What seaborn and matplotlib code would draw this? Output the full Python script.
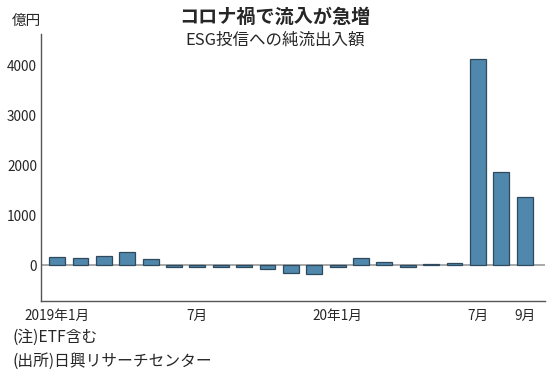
import numpy as np
import pandas as pd
import seaborn as sns
import matplotlib.pyplot as plt

# 月ごとの純流出入額(億円)
months = ['2019-01', '2019-02', '2019-03', '2019-04', '2019-05', '2019-06',
          '2019-07', '2019-08', '2019-09', '2019-10', '2019-11', '2019-12',
          '2020-01', '2020-02', '2020-03', '2020-04', '2020-05', '2020-06',
          '2020-07', '2020-08', '2020-09']
flows = [160, 140, 180, 260, 120, -40, -40, -40, -40, -70, -150, -170,
         -40, 150, 60, -40, 30, 50, 4130, 1870, 1360]
tick_labels = {0: '2019年1月', 6: '7月', 12: '20年1月', 18: '7月', 20: '9月'}

sns.set_theme(style='white')
plt.rcParams['font.family'] = ['Noto Sans CJK JP', 'DejaVu Sans']

df = pd.DataFrame({'month': months, 'flow': flows})

fig = plt.figure(figsize=(5.5, 3.78), dpi=100)
ax = fig.add_axes([0.075, 0.204, 0.915, 0.706])

sns.barplot(data=df, x='month', y='flow', color='#4f87ad', saturation=1,
            width=0.68, edgecolor='#2e4a5c', linewidth=0.9, ax=ax)

ax.axhline(0, color='#999999', lw=1.2, zorder=0)
ax.set_ylim(-720, 4640)
ax.set_xlim(-0.68, 20.85)
ax.set_yticks([0, 1000, 2000, 3000, 4000])
ax.set_yticklabels(['0', '1000', '2000', '3000', '4000'], fontsize=9.8)
ax.set_xticks(range(len(months)))
ax.set_xticklabels([tick_labels.get(i, '') for i in range(len(months))], fontsize=9.8)
ax.tick_params(axis='x', direction='in', length=4, color='#555555', pad=6)
ax.tick_params(axis='y', length=0, pad=3)
ax.set_xlabel('')
ax.set_ylabel('')
for s in ['top', 'right']:
    ax.spines[s].set_visible(False)
for s in ['left', 'bottom']:
    ax.spines[s].set_color('#555555')
    ax.spines[s].set_linewidth(1)

fig.text(0.5, 0.955, 'コロナ禍で流入が急増', ha='center', va='center',
         fontsize=13.8, fontweight='bold')
fig.text(0.5, 0.893, 'ESG投信への純流出入額', ha='center', va='center', fontsize=11.9)
fig.text(0.022, 0.945, '億円', ha='left', va='center', fontsize=10.5)
fig.text(0.022, 0.108, '(注)ETF含む', ha='left', va='center', fontsize=11.3)
fig.text(0.022, 0.043, '(出所)日興リサーチセンター', ha='left', va='center', fontsize=11.3)

fig.savefig('out.png', dpi=100)
